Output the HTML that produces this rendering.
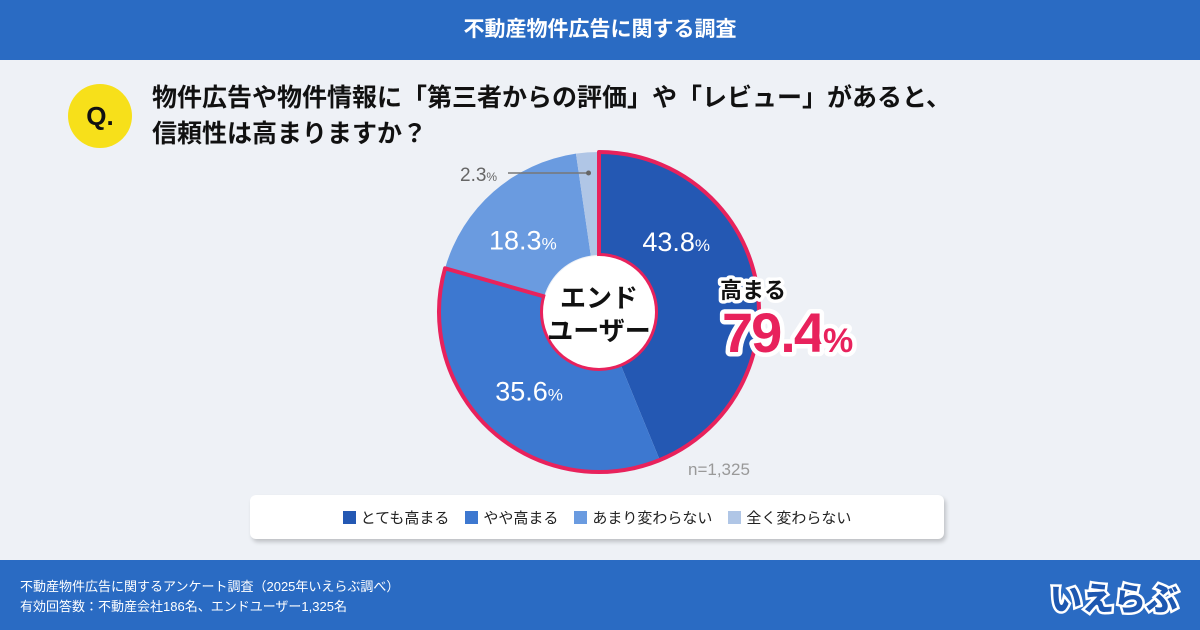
<!DOCTYPE html>
<html><head><meta charset="utf-8"><style>
body{margin:0;width:1200px;height:630px;overflow:hidden;font-family:"Liberation Sans","Noto Sans CJK JP",sans-serif;background:#eef1f6;position:relative}
.hdr{position:absolute;left:0;top:0;width:1200px;height:60px;background:#2a6bc3;color:#fff;font-weight:bold;font-size:21px;text-align:center;line-height:60px}
.ftr{position:absolute;left:0;top:560px;width:1200px;height:70px;background:#2a6bc3;color:#fff;font-size:13px}
.q{position:absolute;left:68px;top:84px;width:64px;height:64px;border-radius:50%;background:#f7e01a;font-size:26px;font-weight:bold;text-align:center;line-height:64px;color:#111}
.qt{position:absolute;left:152px;top:80px;font-size:25px;font-weight:bold;color:#111;line-height:36px}
.leg{position:absolute;left:250px;top:495px;width:694px;height:44px;background:#fff;border-radius:6px;box-shadow:2px 3px 4px rgba(0,0,0,.2);font-size:15px;color:#222;display:flex;justify-content:center;align-items:center;gap:16px}
.leg span i{display:inline-block;width:13px;height:13px;margin-right:5px;vertical-align:-1px}
</style></head><body>
<div class="hdr">不動産物件広告に関する調査</div>
<div class="q">Q.</div>
<div class="qt">物件広告や物件情報に「第三者からの評価」や「レビュー」があると、<br>信頼性は高まりますか？</div>
<svg id="chart" width="1200" height="630" style="position:absolute;left:0;top:0"></svg>
<div class="leg">
<span><i style="background:#2458b3"></i>とても高まる</span>
<span><i style="background:#3d78d0"></i>やや高まる</span>
<span><i style="background:#6a9be0"></i>あまり変わらない</span>
<span><i style="background:#b0c6e6"></i>全く変わらない</span>
</div>
<div class="ftr">
<div style="position:absolute;left:20px;top:17px;line-height:20px">不動産物件広告に関するアンケート調査（2025年いえらぶ調べ）<br>有効回答数：不動産会社186名、エンドユーザー1,325名</div>
<div style="position:absolute;right:22px;top:14px;font-size:32px;font-weight:900;color:#1d57b0;-webkit-text-stroke:5px #fff;paint-order:stroke fill">いえらぶ</div>
</div>
<script>
const categories=["とても高まる","やや高まる","あまり変わらない","全く変わらない"];
const values=[43.8,35.6,18.3,2.3];
const labels=["43.8","35.6","18.3","2.3"];
const colors=["#2458b3","#3d78d0","#6a9be0","#b0c6e6"];
const labelFrac=[0.3,0.5,0.42,0.5];
const svg=document.getElementById('chart');const NS="http://www.w3.org/2000/svg";
const cx=599,cy=312,R=160,r0=57;
const total=values.reduce((a,b)=>a+b,0);
function ang(v){return v/total*2*Math.PI;}
function pt(a,r){return [cx+r*Math.sin(a),cy-r*Math.cos(a)];}
function arc(a0,a1,ro,ri){const l=(a1-a0)>Math.PI?1:0;const p1=pt(a0,ro),p2=pt(a1,ro),p3=pt(a1,ri),p4=pt(a0,ri);
return `M${p1}A${ro},${ro} 0 ${l} 1 ${p2}L${p3}A${ri},${ri} 0 ${l} 0 ${p4}Z`;}
function mk(t,at){const e=document.createElementNS(NS,t);for(const k in at)e.setAttribute(k,at[k]);svg.appendChild(e);return e;}
let a=0;const starts=[];
values.forEach((v,i)=>{const a1=a+ang(v);starts.push([a,a1]);
const p=mk('path',{d:arc(a,a1,R,r0),fill:colors[i]});


a=a1;});
const hl=mk('path',{d:arc(0,ang(values[0]+values[1]),R,r0),fill:'none',stroke:'#e8225c','stroke-width':4,'stroke-linejoin':'round'});


mk('circle',{cx:cx,cy:cy,r:r0-1,fill:'#fff'});
const ct=mk('text',{x:cx,y:cy-5,'text-anchor':'middle','font-size':26,'font-weight':'bold',fill:'#111'});ct.textContent='エンド';


const ct2=mk('text',{x:cx,y:cy+28,'text-anchor':'middle','font-size':26,'font-weight':'bold',fill:'#111'});ct2.textContent='ユーザー';


values.forEach((v,i)=>{const [s,e]=starts[i];const m=s+(e-s)*labelFrac[i];
if(i<3){const p=pt(m,105);const t=mk('text',{x:p[0],y:p[1]+10,'text-anchor':'middle','font-size':27,fill:'#fff'});
t.innerHTML=labels[i]+'<tspan font-size="17">%</tspan>';

}
else{const p=pt(m,145);mk('line',{x1:p[0],y1:173,x2:508,y2:173,stroke:'#777','stroke-width':1.5});mk('circle',{cx:p[0],cy:173,r:2.5,fill:'#666'});
const t=mk('text',{x:460,y:181,'font-size':19,fill:'#666'});t.innerHTML=labels[i]+'<tspan font-size="12">%</tspan>';

}
});
const sumT=(values[0]+values[1]).toFixed(1);
const h=mk('text',{x:720,y:298,'font-size':22,'font-weight':'bold',fill:'#111',stroke:'#fff','stroke-width':7,'paint-order':'stroke','stroke-linejoin':'round'});h.textContent='高まる';


const hv=mk('text',{x:722,y:352,'font-size':56,'font-weight':'bold',fill:'#e8225c',stroke:'#fff','stroke-width':9,'paint-order':'stroke','stroke-linejoin':'round','letter-spacing':'-2'});hv.innerHTML=sumT+'<tspan font-size="34">%</tspan>';


const n=mk('text',{x:688,y:475,'font-size':17,fill:'#999'});n.textContent='n=1,325';


</script>
</body></html>
